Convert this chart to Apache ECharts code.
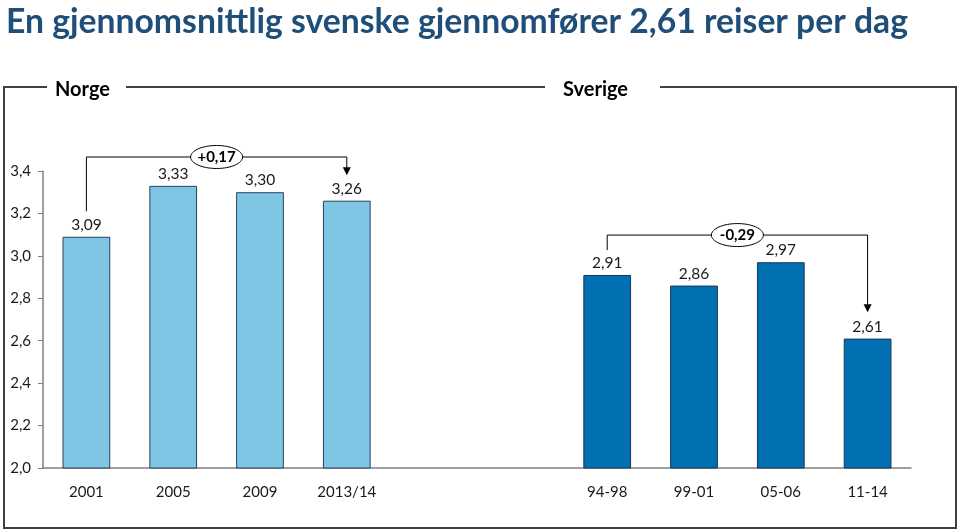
<!DOCTYPE html>
<html>
<head>
<meta charset="utf-8">
<script src="https://cdn.jsdelivr.net/npm/echarts@6/dist/echarts.min.js"></script>
<style>
html,body{margin:0;padding:0;background:#fff;}
#c{width:959px;height:531px;}
</style>
</head>
<body>
<div id="c"></div>
<script>
var categories = ['2001', '2005', '2009', '2013/14', ' ', '  ', '94-98', '99-01', '05-06', '11-14'];
var norgeValues = [3.09, 3.33, 3.30, 3.26, '-', '-', '-', '-', '-', '-'];
var sverigeValues = ['-', '-', '-', '-', '-', '-', 2.91, 2.86, 2.97, 2.61];
var yTicks = [2.0, 2.2, 2.4, 2.6, 2.8, 3.0, 3.2, 3.4];
var titleText = 'En gjennomsnittlig svenske gjennomfører 2,61 reiser per dag';
// annotation brackets: [fromIndex, toIndex, bracket level, start level, arrow end, label]
var norgeChange = { from: 0, to: 3, top: 3.466, start: 3.21, end: 3.38, label: '+0,17' };
var sverigeChange = { from: 6, to: 9, top: 3.098, start: 3.027, end: 2.734, label: '-0,29' };

var FONT = 'Lato, "Open Sans", sans-serif';
function fmt(v) { return Number(v).toFixed(2).replace('.', ','); }

var chart = echarts.init(document.getElementById('c'));
var labelCfg = {
  show: true, position: 'top', distance: 4,
  fontFamily: FONT, fontSize: 15.5, color: '#1a1a1a',
  formatter: function (p) { return fmt(p.value); }
};
chart.setOption({
  animation: false,
  title: {
    text: titleText, left: 1, top: 0,
    textStyle: { fontFamily: FONT, fontWeight: 'bold', fontSize: 33.7, color: '#1F4E79' }
  },
  grid: { left: 43, right: 48, top: 171, bottom: 63, containLabel: false },
  xAxis: {
    type: 'category', data: categories,
    axisLine: { lineStyle: { color: '#808080', width: 1.5 } },
    axisTick: { show: false },
    axisLabel: { fontFamily: FONT, fontSize: 15, color: '#1a1a1a', margin: 17 }
  },
  yAxis: {
    type: 'value', min: 2.0, max: 3.4, interval: 0.2,
    axisLine: { show: true, lineStyle: { color: '#808080', width: 1.5 } },
    axisTick: { show: true, length: 5, lineStyle: { color: '#808080' } },
    splitLine: { show: false },
    axisLabel: {
      fontFamily: FONT, fontSize: 15, color: '#1a1a1a', margin: 12,
      formatter: function (v) { return Number(v).toFixed(1).replace('.', ','); }
    }
  },
  series: [
    {
      name: 'Norge', type: 'bar', data: norgeValues, barWidth: '55%', barGap: '-100%',
      itemStyle: { color: '#7EC6E4', borderColor: '#24415E', borderWidth: 1 },
      label: labelCfg
    },
    {
      name: 'Sverige', type: 'bar', data: sverigeValues, barWidth: '55%', barGap: '-100%',
      itemStyle: { color: '#0070B2', borderColor: '#1B3550', borderWidth: 1 },
      label: labelCfg
    }
  ]
});

function px(idx, v) { return chart.convertToPixel({ xAxisIndex: 0, yAxisIndex: 0 }, [idx, v]); }

function bracket(a) {
  var p0 = px(a.from, a.start), p1 = px(a.from, a.top), p2 = px(a.to, a.top), p3 = px(a.to, a.end);
  var els = [];
  els.push({
    type: 'polyline', shape: { points: [p0, p1, p2, [p3[0], p3[1] - 7]] },
    style: { stroke: '#000', lineWidth: 1, fill: null }, z: 10
  });
  els.push({
    type: 'polygon', shape: { points: [[p3[0] - 4, p3[1] - 8], [p3[0] + 4, p3[1] - 8], [p3[0], p3[1]]] },
    style: { fill: '#000' }, z: 10
  });
  var cx = (p1[0] + p2[0]) / 2, cy = p1[1];
  els.push({
    type: 'ellipse', shape: { cx: cx, cy: cy, rx: 26, ry: 11.5 },
    style: { fill: '#fff', stroke: '#000', lineWidth: 1 }, z: 11
  });
  els.push({
    type: 'text', x: cx, y: cy, z: 12,
    style: { text: a.label, fontFamily: FONT, fontWeight: 'bold', fontSize: 15, fill: '#000', align: 'center', verticalAlign: 'middle' }
  });
  return els;
}

var frameY = 87, frameL = 4, frameR = 956, frameB = 528;
var frameStyle = { stroke: '#404040', lineWidth: 2, fill: null };
var graphics = [
  { type: 'polyline', shape: { points: [[47, frameY], [frameL, frameY], [frameL, frameB], [frameR, frameB], [frameR, frameY], [660, frameY]] }, style: frameStyle },
  { type: 'line', shape: { x1: 126, y1: frameY, x2: 545, y2: frameY }, style: frameStyle },
  { type: 'text', x: 55, y: 90, style: { text: 'Norge', fontFamily: FONT, fontWeight: 'bold', fontSize: 20, fill: '#000', verticalAlign: 'middle' } },
  { type: 'text', x: 563, y: 90, style: { text: 'Sverige', fontFamily: FONT, fontWeight: 'bold', fontSize: 20, fill: '#000', verticalAlign: 'middle' } }
].concat(bracket(norgeChange)).concat(bracket(sverigeChange));

chart.setOption({ graphic: graphics });
</script>
</body>
</html>
